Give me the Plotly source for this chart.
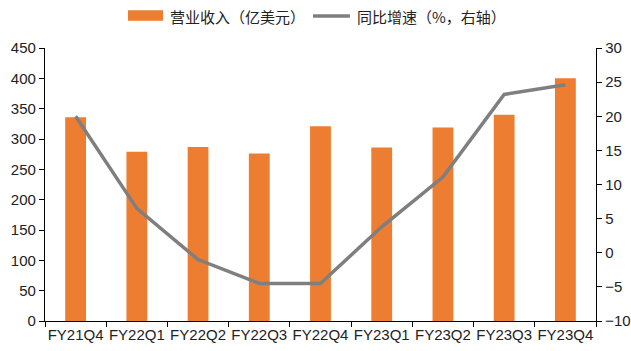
import plotly.graph_objects as go

quarters = ["FY21Q4", "FY22Q1", "FY22Q2", "FY22Q3", "FY22Q4",
            "FY23Q1", "FY23Q2", "FY23Q3", "FY23Q4"]
revenue = [336, 279, 287, 276, 321, 286, 319, 340, 400]       # 亿美元
yoy_growth = [20.0, 6.5, -1.0, -4.5, -4.5, 3.8, 11.1, 23.2, 24.6]  # %
series_names = ["营业收入（亿美元）", "同比增速（%，右轴）"]

FONT = "Liberation Sans, Noto Sans CJK SC, sans-serif"
CJK_FONT = "Noto Sans CJK SC, Liberation Sans, sans-serif"
ORANGE = "#ED7D31"
GREY = "#7F7F7F"
TEXT = "#222"

fig = go.Figure()
fig.add_trace(go.Bar(
    x=quarters, y=revenue, name=series_names[0],
    marker=dict(color=ORANGE, line=dict(width=0)), width=0.34,
))
fig.add_trace(go.Scatter(
    x=quarters, y=yoy_growth, name=series_names[1], yaxis="y2",
    mode="lines", line=dict(color=GREY, width=3.5),
))

axis_common = dict(
    showgrid=False, zeroline=False, showline=True, linecolor="black",
    linewidth=1.3, ticks="outside", ticklen=5, tickcolor="black",
    tickfont=dict(family=FONT, size=15, color=TEXT), automargin=False,
)

# Legend drawn above the plot: a wide orange block and a grey line stroke
legend_shapes = [
    dict(type="rect", xref="paper", yref="paper",
         x0=0.1506, x1=0.2142, y0=1.100, y1=1.138,
         fillcolor=ORANGE, line=dict(width=0)),
    dict(type="line", xref="paper", yref="paper",
         x0=0.4864, x1=0.5535, y0=1.117, y1=1.117,
         line=dict(color=GREY, width=3.5)),
]
legend_texts = [
    dict(text=series_names[0], x=0.2232, y=1.117),
    dict(text=series_names[1], x=0.5626, y=1.117),
]

fig.update_layout(
    width=631, height=351,
    margin=dict(l=45, r=35, t=48, b=30),
    paper_bgcolor="white", plot_bgcolor="white",
    xaxis=dict(**axis_common, tickson="boundaries", tickangle=0),
    yaxis=dict(**axis_common, range=[0, 450], dtick=50),
    yaxis2=dict(**axis_common, range=[-10, 30], dtick=5, overlaying="y",
                side="right"),
    showlegend=False,
    shapes=legend_shapes,
    annotations=[
        dict(**t, xref="paper", yref="paper", xanchor="left",
             yanchor="middle", showarrow=False,
             font=dict(family=CJK_FONT, size=15, color=TEXT))
        for t in legend_texts
    ],
)

fig.write_html("out.html")
